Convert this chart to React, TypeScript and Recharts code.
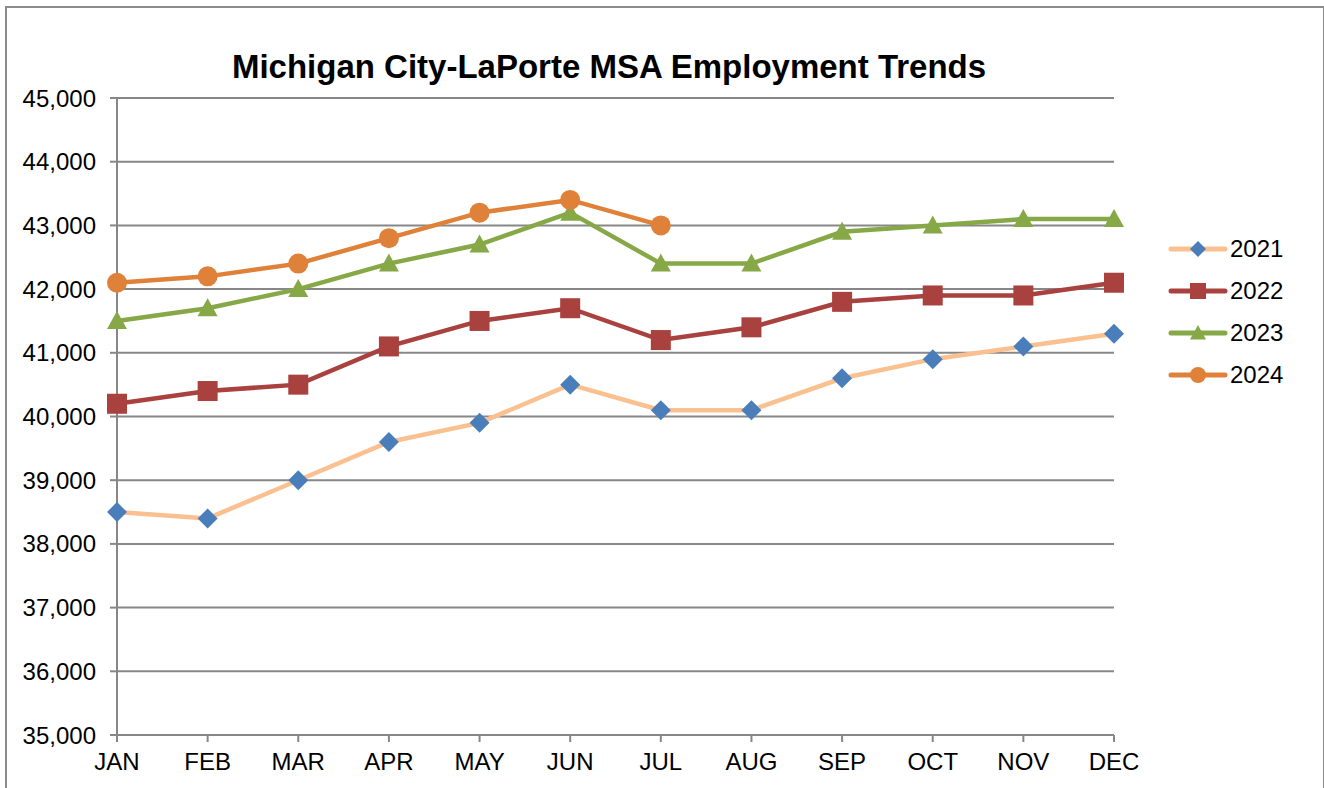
import { LineChart, Line, XAxis, YAxis, CartesianGrid } from 'recharts'

const months = ['JAN', 'FEB', 'MAR', 'APR', 'MAY', 'JUN', 'JUL', 'AUG', 'SEP', 'OCT', 'NOV', 'DEC']
const y2021 = [38500, 38400, 39000, 39600, 39900, 40500, 40100, 40100, 40600, 40900, 41100, 41300]
const y2022 = [40200, 40400, 40500, 41100, 41500, 41700, 41200, 41400, 41800, 41900, 41900, 42100]
const y2023 = [41500, 41700, 42000, 42400, 42700, 43200, 42400, 42400, 42900, 43000, 43100, 43100]
const y2024 = [42100, 42200, 42400, 42800, 43200, 43400, 43000]
const yTicks = [35000, 36000, 37000, 38000, 39000, 40000, 41000, 42000, 43000, 44000, 45000]

const data = months.map((m, i) => ({
  month: m,
  '2021': y2021[i],
  '2022': y2022[i],
  '2023': y2023[i],
  '2024': y2024[i] ?? null,
}))

const FONT = 'Liberation Sans, Arial, sans-serif'
const AXIS = '#878787'

type Shape = 'diamond' | 'square' | 'triangle' | 'circle'

const series: { key: string; line: string; marker: string; shape: Shape }[] = [
  { key: '2021', line: '#FAC090', marker: '#4A7EBB', shape: 'diamond' },
  { key: '2022', line: '#A9413F', marker: '#A9413F', shape: 'square' },
  { key: '2023', line: '#86A847', marker: '#86A847', shape: 'triangle' },
  { key: '2024', line: '#DF8139', marker: '#DF8139', shape: 'circle' },
]

function marker(shape: Shape, cx: number, cy: number, fill: string, s = 10) {
  if (shape === 'diamond')
    return <polygon points={`${cx},${cy - s} ${cx + s},${cy} ${cx},${cy + s} ${cx - s},${cy}`} fill={fill} />
  if (shape === 'square') return <rect x={cx - s} y={cy - s} width={s * 2} height={s * 2} fill={fill} />
  if (shape === 'triangle')
    return <polygon points={`${cx},${cy - s} ${cx + s},${cy + s * 0.8} ${cx - s},${cy + s * 0.8}`} fill={fill} />
  return <circle cx={cx} cy={cy} r={s} fill={fill} />
}

const makeDot = (shape: Shape, fill: string) => (props: any) => {
  const { cx, cy, index, value } = props
  if (value == null || cx == null || cy == null) return <g key={index} />
  return <g key={index}>{marker(shape, cx, cy, fill)}</g>
}

function LegendBox() {
  return (
    <div style={{ fontFamily: FONT, fontSize: 24 }}>
      {series.map((s) => (
        <div key={s.key} style={{ display: 'flex', alignItems: 'center', height: 42 }}>
          <svg width={62} height={24}>
            <line x1={3} y1={12} x2={57} y2={12} stroke={s.line} strokeWidth={5} strokeLinecap="round" />
            {marker(s.shape, 30, 12, s.marker, 8)}
          </svg>
          <span style={{ color: '#000' }}>{s.key}</span>
        </div>
      ))}
    </div>
  )
}

export default function App() {
  return (
    <div style={{ position: 'absolute', left: 0, top: 0, width: 1324, height: 788, overflow: 'hidden', background: '#fff' }}>
      <div
        style={{
          position: 'absolute',
          left: 5,
          top: 6,
          width: 1316,
          height: 800,
          border: '2px solid #8c8c8c',
        }}
      />
      <div
        style={{
          position: 'absolute',
          left: 0,
          top: 48,
          width: 1218,
          textAlign: 'center',
          fontFamily: FONT,
          fontWeight: 'bold',
          fontSize: 33,
          color: '#000',
        }}
      >
        Michigan City-LaPorte MSA Employment Trends
      </div>
      <div style={{ position: 'absolute', left: 1168, top: 228 }}>
        <LegendBox />
      </div>
      <div style={{ position: 'absolute', left: 0, top: 0 }}>
        <LineChart width={1324} height={788} data={data} margin={{ top: 98, right: 210, bottom: 13, left: 0 }}>
          <CartesianGrid vertical={false} stroke={AXIS} strokeWidth={2} />
          <XAxis
            dataKey="month"
            stroke={AXIS}
            strokeWidth={2}
            tickSize={7}
            tickMargin={11}
            height={40}
            interval={0}
            tick={{ fill: '#000', fontSize: 24, fontFamily: FONT }}
          />
          <YAxis
            domain={[35000, 45000]}
            ticks={yTicks}
            width={117}
            stroke={AXIS}
            strokeWidth={2}
            tickSize={7}
            tickMargin={14}
            tickFormatter={(v: number) => v.toLocaleString('en-US')}
            tick={{ fill: '#000', fontSize: 24, fontFamily: FONT }}
          />
          {series.map((s) => (
            <Line
              key={s.key}
              type="linear"
              dataKey={s.key}
              stroke={s.line}
              strokeWidth={4.5}
              dot={makeDot(s.shape, s.marker)}
              activeDot={false}
              isAnimationActive={false}
              connectNulls={false}
            />
          ))}
        </LineChart>
      </div>
    </div>
  )
}
